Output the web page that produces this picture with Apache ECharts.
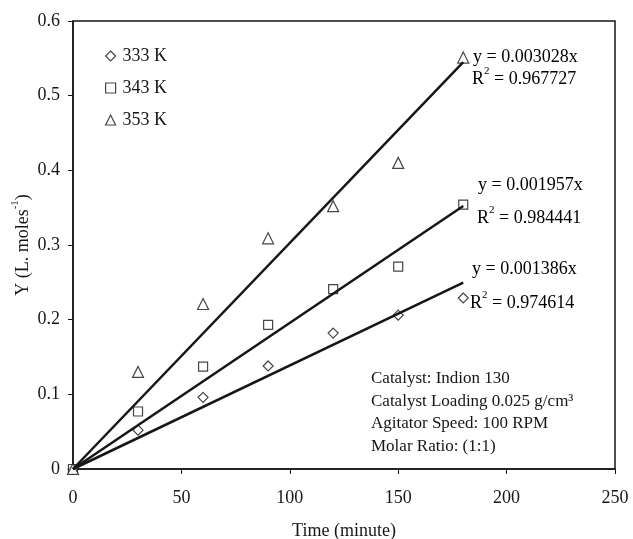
<!DOCTYPE html>
<html>
<head>
<meta charset="utf-8">
<script src="https://cdn.jsdelivr.net/npm/echarts@6/dist/echarts.min.js"></script>
<style>
  html, body { margin: 0; padding: 0; background: #fff; }
  #chart { width: 633px; height: 539px; }
</style>
</head>
<body>
<div id="chart"></div>
<script>
// time points (minute)
const times = [0, 30, 60, 90, 120, 150, 180]
const seriesNames = ['333 K', '343 K', '353 K']
const y333 = [0, 0.052, 0.096, 0.138, 0.182, 0.206, 0.229]
const y343 = [0, 0.077, 0.137, 0.193, 0.241, 0.271, 0.354]
const y353 = [0, 0.130, 0.221, 0.309, 0.352, 0.410, 0.551]
const symbols = ['diamond', 'rect', 'triangle']
// linear fits through origin, as printed on the chart
const slopes = [0.001386, 0.001957, 0.003028]
const r2Values = ['0.974614', '0.984441', '0.967727']
const fitRange = [0, 180]
const notes = ['Catalyst: Indion 130', 'Catalyst Loading 0.025 g/cm³', 'Agitator Speed: 100 RPM', 'Molar Ratio: (1:1)']

const FONT = '"Liberation Serif", "Times New Roman", serif'
const INK = '#161616'

const chart = echarts.init(document.getElementById('chart'))

const ySets = [y333, y343, y353]
const scatterSeries = ySets.map((ys, i) => ({
  name: seriesNames[i],
  type: 'scatter',
  symbol: symbols[i],
  symbolSize: i === 2 ? 11 : (i === 1 ? 9 : 10),
  z: 2,
  itemStyle: { color: '#fff', borderColor: INK, borderWidth: 1.2 },
  data: times.map((t, k) => [t, ys[k]])
}))

const fitSeries = slopes.map((m, i) => ({
  name: 'fit ' + seriesNames[i],
  type: 'line',
  symbol: 'none',
  silent: true,
  z: 3,
  lineStyle: { color: INK, width: 2.5 },
  data: fitRange.map(x => [x, m * x])
}))

const richText = {
  n: { fontFamily: FONT, fontSize: 18, lineHeight: 22, verticalAlign: 'bottom', color: INK },
  s: { fontFamily: FONT, fontSize: 11, lineHeight: 11, verticalAlign: 'top', color: INK }
}

// label anchors [left, top] for equation / R2 lines, order matches slopes
const eqPos = [[472, 260], [478, 176], [473, 48]]
const r2Pos = [[470, 290], [477, 205], [472, 66]]

const graphics = []
slopes.forEach((m, i) => {
  graphics.push({
    type: 'text', left: eqPos[i][0], top: eqPos[i][1], z: 10,
    style: { text: '{n|y = ' + m.toFixed(6) + 'x}', rich: richText }
  })
  graphics.push({
    type: 'text', left: r2Pos[i][0], top: r2Pos[i][1], z: 10,
    style: { text: '{n|R}{s|2}{n| = ' + r2Values[i] + '}', rich: richText }
  })
})
notes.forEach((t, k) => {
  graphics.push({
    type: 'text', left: 371, top: 370 + k * 22.6, z: 10,
    style: { text: t, font: '17px ' + FONT, fill: INK }
  })
})

chart.setOption({
  backgroundColor: '#fff',
  animation: false,
  textStyle: { fontFamily: FONT, color: INK },
  grid: {
    left: 73, right: 18, top: 21, bottom: 70,
    outerBoundsMode: 'none',
    containLabel: false,
    show: true, borderColor: INK, borderWidth: 1.5, backgroundColor: '#fff'
  },
  legend: {
    data: seriesNames,
    orient: 'vertical',
    left: 100, top: 42,
    itemWidth: 10, itemHeight: 10, itemGap: 14,
    itemStyle: { color: '#fff', borderColor: INK, borderWidth: 1.2 },
    textStyle: { fontFamily: FONT, fontSize: 18, color: INK, padding: [0, 0, 0, 2] }
  },
  xAxis: {
    type: 'value',
    min: 0, max: 250, interval: 50,
    name: 'Time (minute)',
    nameLocation: 'middle',
    nameGap: 53,
    nameMoveOverlap: false,
    nameTextStyle: { fontFamily: FONT, fontSize: 18, color: INK },
    axisLine: { lineStyle: { color: INK, width: 1.5 } },
    axisTick: { lineStyle: { color: INK }, length: 5 },
    axisLabel: { fontFamily: FONT, fontSize: 18, color: INK, margin: 20 },
    splitLine: { show: false }
  },
  yAxis: {
    type: 'value',
    min: 0, max: 0.6, interval: 0.1,
    name: '{n|Y (L. moles}{s|-1}{n|)}',
    nameLocation: 'middle',
    nameGap: 41,
    nameMoveOverlap: false,
    nameRotate: 90,
    nameTextStyle: { rich: richText },
    axisLine: { lineStyle: { color: INK, width: 1.5 } },
    axisTick: { lineStyle: { color: INK }, length: 5 },
    axisLabel: { fontFamily: FONT, fontSize: 18, color: INK, margin: 13 },
    splitLine: { show: false }
  },
  graphic: graphics,
  series: [...fitSeries, ...scatterSeries]
})

window.addEventListener('resize', () => chart.resize())
</script>
</body>
</html>
